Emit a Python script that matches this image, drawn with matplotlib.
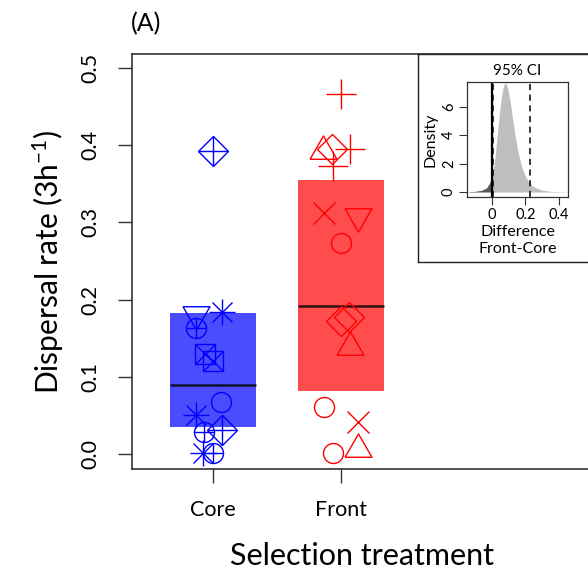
import numpy as np
import matplotlib
matplotlib.use('Agg')
import matplotlib.pyplot as plt

plt.rcParams['font.family'] = ['Lato', 'DejaVu Sans']
plt.rcParams['mathtext.fontset'] = 'custom'
plt.rcParams['mathtext.rm'] = 'Lato'
plt.rcParams['mathtext.it'] = 'Lato:italic'

# treatments and box summaries (lower, median, upper)
treatments = ['Core', 'Front']
box_low = [0.035, 0.082]
box_mid = [0.089, 0.192]
box_high = [0.182, 0.355]

# replicate dispersal rates, their horizontal jitter and R pch symbol
core_rate = [0.393, 0.181, 0.163, 0.184, 0.129, 0.120, 0.068, 0.050, 0.028, 0.031, 0.001, 0.001]
core_jit = [0.00, -0.13, -0.135, 0.07, -0.065, 0.00, 0.065, -0.135, -0.07, 0.07, -0.075, 0.00]
core_pch = [9, 6, 10, 8, 7, 7, 1, 8, 10, 9, 8, 10]

front_rate = [0.466, 0.392, 0.395, 0.395, 0.373, 0.312, 0.308, 0.273, 0.172, 0.178, 0.138,
              0.061, 0.041, 0.001, 0.007]
front_jit = [0.00, -0.14, -0.07, 0.07, -0.06, -0.13, 0.135, 0.00, 0.00, 0.065, 0.07,
             -0.135, 0.135, -0.065, 0.135]
front_pch = [3, 2, 5, 3, 3, 4, 6, 1, 5, 5, 2, 1, 4, 1, 2]

# posterior density of the Front-Core difference
diff_x = [-0.14, -0.10, -0.06, -0.03, -0.01, 0.0, 0.01, 0.02, 0.03, 0.04, 0.05, 0.06, 0.07,
          0.08, 0.09, 0.10, 0.11, 0.12, 0.13, 0.14, 0.15, 0.16, 0.18, 0.20, 0.22, 0.24,
          0.27, 0.30, 0.34, 0.40, 0.45]
diff_dens = [0.02, 0.05, 0.12, 0.30, 0.70, 1.1, 1.6, 2.5, 3.7, 4.9, 6.0, 6.9, 7.5,
             7.7, 7.5, 7.0, 6.3, 5.5, 4.7, 3.9, 3.2, 2.6, 1.7, 1.1, 0.7, 0.45,
             0.25, 0.13, 0.06, 0.02, 0.01]
ci_low, ci_high = 0.01, 0.227

blue = '#0000ff'
red = '#ff0000'

tri = 0.5773
tri_up = [(-1, -tri), (1, -tri), (0, 2 * tri), (-1, -tri)]
tri_down = [(-1, tri), (1, tri), (0, -2 * tri), (-1, tri)]

# each pch drawn as one or more matplotlib markers: (marker, size)
pch_parts = {
    1: [('o', 14.4)],
    2: [(tri_up, 22.4)],
    3: [('+', 21)],
    4: [('x', 15.5)],
    5: [('D', 14.8)],
    6: [(tri_down, 22.4)],
    7: [('s', 13.7), ('x', 13.7)],
    8: [('+', 19), ('x', 14)],
    9: [('D', 14.8), ('+', 20.9)],
    10: [('o', 14.4), ('+', 14.4)],
}


def draw_pch(ax, x, y, pch, col):
    for m, s in pch_parts[pch]:
        ax.plot(x, y, linestyle='none', marker=m, markersize=s, markerfacecolor='none',
                markeredgecolor=col, markeredgewidth=1.0, zorder=4)


fig = plt.figure(figsize=(5.88, 5.72), dpi=100)
W, H = 588, 572

# main panel runs just past the right edge of the figure
ax = fig.add_axes([132 / W, (H - 469) / H, (591 - 132) / W, (469 - 54) / H])
ax.set_xlim(0.367, 1 + (591 - 213) / 128)
ax.set_ylim(-0.0194, 0.518)

cols = [blue, red]
bw = 0.67
for i, name in enumerate(treatments):
    xc = i + 1
    ax.bar(xc, box_high[i] - box_low[i], bottom=box_low[i], width=bw,
           color=cols[i], alpha=0.7, linewidth=0, zorder=2)
    ax.hlines(box_mid[i], xc - bw / 2, xc + bw / 2, color='black', alpha=0.8,
              linewidth=1.8, zorder=3)

for y, j, p in zip(core_rate, core_jit, core_pch):
    draw_pch(ax, 1 + j, y, p, blue)
for y, j, p in zip(front_rate, front_jit, front_pch):
    draw_pch(ax, 2 + j, y, p, red)

ax.set_xticks([1, 2])
ax.set_xticklabels(treatments, fontsize=15.5)
yt = [0.0, 0.1, 0.2, 0.3, 0.4, 0.5]
ax.set_yticks(yt)
ax.set_yticklabels(['%.1f' % v for v in yt], rotation=90, va='center', fontsize=15.5)
ax.tick_params(axis='both', length=10, width=1.0, color='#333333')
ax.tick_params(axis='y', pad=13)
ax.tick_params(axis='x', pad=12)
for sp in ax.spines.values():
    sp.set_color('#333333')
    sp.set_linewidth(1.2)

ax.set_ylabel('Dispersal rate (3h$^{-1}$)', fontsize=21.5, labelpad=10)
ax.set_xlabel('Selection treatment', fontsize=22, labelpad=16)
fig.text(131 / W, 1 - 24 / H, '(A)', fontsize=18, ha='left', va='center')

# inset with the difference between treatments
box = fig.add_axes([418 / W, (H - 262) / H, (620 - 418) / W, (262 - 54) / H], zorder=5)
box.set_xticks([])
box.set_yticks([])
box.set_facecolor('white')
for sp in box.spines.values():
    sp.set_color('#222222')
    sp.set_linewidth(1.0)

ins = fig.add_axes([467 / W, (H - 197) / H, (568 - 467) / W, (197 - 82) / H], zorder=6)
ins.set_xlim(-0.147, 0.453)
ins.set_ylim(-0.35, 7.75)
dx = np.array(diff_x)
dd = np.array(diff_dens)
ins.fill_between(dx, 0, dd, where=dx >= 0, color='#bebebe', linewidth=0)
ins.fill_between(dx, 0, dd, where=dx <= 0, color='#5a5a5a', linewidth=0)
ins.axvline(0, color='black', linewidth=1.6)
ins.axvline(ci_low, color='black', linewidth=1.1, linestyle=(0, (4, 3)))
ins.axvline(ci_high, color='black', linewidth=1.1, linestyle=(0, (4, 3)))
ins.set_xticks([0, 0.2, 0.4])
ins.set_xticklabels(['0', '0.2', '0.4'], fontsize=10.5)
ins.set_yticks([0, 2, 4, 6])
ins.set_yticklabels(['0', '2', '4', '6'], rotation=90, va='center', fontsize=10.5)
ins.tick_params(axis='both', length=6, width=0.8, color='#333333', pad=2)
for sp in ins.spines.values():
    sp.set_color('#333333')
    sp.set_linewidth(0.9)
ins.set_title('95% CI', fontsize=11, pad=5)
ins.set_ylabel('Density', fontsize=11.5, labelpad=3)
ins.set_xlabel('Difference\nFront-Core', fontsize=11.5, labelpad=2, linespacing=1.3)

fig.savefig('out.png', dpi=100)
